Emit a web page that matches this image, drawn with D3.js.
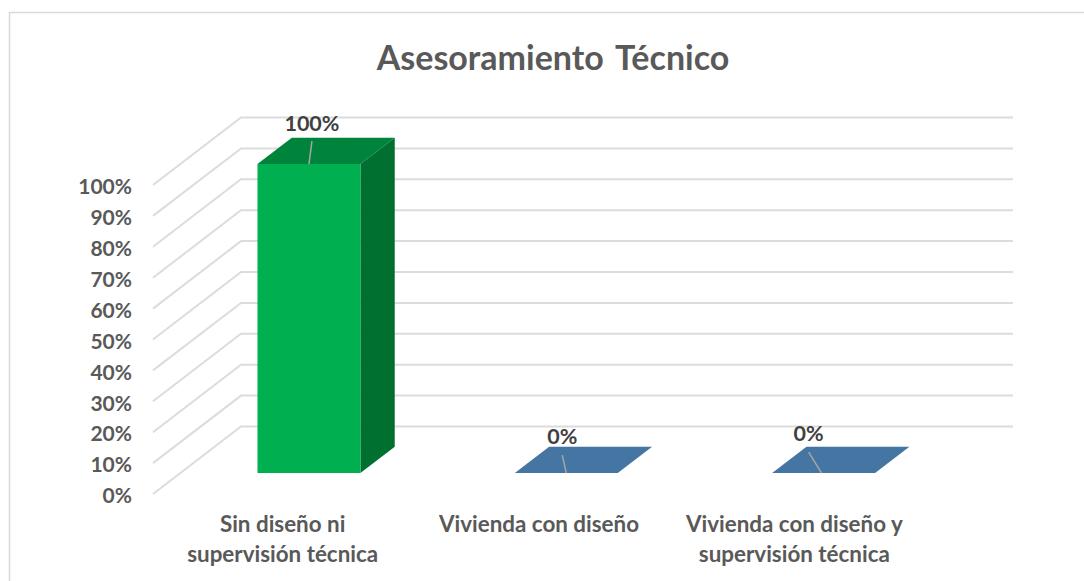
<!DOCTYPE html>
<html>
<head>
<meta charset="utf-8">
<script src="https://cdn.jsdelivr.net/npm/d3@7"></script>
<style>
  html, body { margin: 0; padding: 0; background: #fff; }
  svg { display: block; }
  text { font-family: Lato, "Open Sans", sans-serif; font-weight: 700; }
</style>
</head>
<body>
<svg id="chart" width="1084" height="581"></svg>
<script>
// chart data
var title = "Asesoramiento Técnico";
var categories = ["Sin diseño ni supervisión técnica", "Vivienda con diseño", "Vivienda con diseño y supervisión técnica"];
var categoryLines = [["Sin diseño ni", "supervisión técnica"], ["Vivienda con diseño"], ["Vivienda con diseño y", "supervisión técnica"]];
var values = [100, 0, 0];
var valueLabels = ["100%", "0%", "0%"];
var yTicks = [0, 10, 20, 30, 40, 50, 60, 70, 80, 90, 100];

var svg = d3.select("#chart");

// chart frame
svg.append("path")
  .attr("d", "M9.5,581V12.5H1084")
  .attr("fill", "none")
  .attr("stroke", "#d9d9d9")
  .attr("stroke-width", 1.5);

svg.append("text")
  .attr("x", 553)
  .attr("y", 70)
  .attr("text-anchor", "middle")
  .attr("fill", "#595959")
  .style("font-size", "34px")
  .style("word-spacing", "4px")
  .text(title);

// front plane scales
var x = d3.scaleBand().domain(categories).range([153, 925]).paddingInner(0.6).paddingOuter(0.3);
var y = d3.scaleLinear().domain([0, 100]).range([494, 185]);

// depth of the 3d box, shift of the back wall from the front plane
var depthX = 88, depthY = -67.5;
var barFront = 0.31, barBack = 0.70;

function pt(px, py, d) {
  return [px + d * depthX, py + d * depthY];
}
var line = d3.line();

// gridlines: floor part + back wall part
var grid = svg.append("g");
yTicks.forEach(function(t) {
  grid.append("path")
    .attr("d", line([pt(x.range()[0], y(t), 0), pt(x.range()[0], y(t), 1), pt(x.range()[1], y(t), 1)]))
    .attr("fill", "none")
    .attr("stroke", "#dcdcdc")
    .attr("stroke-width", 2);
});

// y axis labels
var yAxis = d3.axisLeft(y).tickValues(yTicks).tickSize(0).tickFormat(function(d) { return d + "%"; });
var yG = svg.append("g").attr("transform", "translate(132,2)").call(yAxis);
yG.select(".domain").remove();
yG.selectAll("text")
  .attr("x", 0)
  .attr("fill", "#595959")
  .style("font-size", "21px")
  .style("font-family", "Lato, sans-serif");

// bars
var bars = svg.append("g").selectAll("g").data(categories).enter().append("g");

bars.each(function(c, i) {
  var g = d3.select(this);
  var l = x(c), r = l + x.bandwidth();
  var y0 = y(0), y1 = y(values[i]);

  if (values[i] > 0) {
    // top
    g.append("path")
      .attr("d", line([pt(l, y1, barFront), pt(l, y1, barBack), pt(r, y1, barBack), pt(r, y1, barFront)]) + "Z")
      .attr("fill", "#00843b");
    // side
    g.append("path")
      .attr("d", line([pt(r, y1, barFront), pt(r, y1, barBack), pt(r, y0, barBack), pt(r, y0, barFront)]) + "Z")
      .attr("fill", "#007030");
    // front
    g.append("path")
      .attr("d", line([pt(l, y1, barFront), pt(r, y1, barFront), pt(r, y0, barFront), pt(l, y0, barFront)]) + "Z")
      .attr("fill", "#00b050");
  } else {
    g.append("path")
      .attr("d", line([pt(l, y0, barFront), pt(l, y0, barBack), pt(r, y0, barBack), pt(r, y0, barFront)]) + "Z")
      .attr("fill", "#4475a3");
  }
});

// data labels were dragged by hand in the original, so offsets differ per bar
var labelDx = [3, -4, -15];
var labelDy = [-33, -29, -32];
var leaderFoot = [0, 0, -2];
var leaderLen = [23, 18, 21];

bars.each(function(c, i) {
  var g = d3.select(this);
  var cx = x(c) + x.bandwidth() / 2;
  var foot = pt(cx, y(values[i]), barFront);
  var lx = foot[0] + labelDx[i];
  g.append("path")
    .attr("d", line([[foot[0] + leaderFoot[i], foot[1]], [lx, foot[1] - leaderLen[i]]]))
    .attr("stroke", "#a6a6a6")
    .attr("stroke-width", 1.5)
    .attr("fill", "none");
  g.append("text")
    .attr("x", lx)
    .attr("y", foot[1] + labelDy[i])
    .attr("text-anchor", "middle")
    .attr("fill", "#404040")
    .style("font-size", "21.5px")
    .text(valueLabels[i]);
});

// category labels
var categoryDx = [1, 0, -2];
categoryLines.forEach(function(lines, i) {
  var cx = x(categories[i]) + x.bandwidth() / 2 + categoryDx[i];
  lines.forEach(function(s, j) {
    svg.append("text")
      .attr("x", cx)
      .attr("y", 532 + j * 30)
      .attr("text-anchor", "middle")
      .attr("fill", "#595959")
      .style("font-size", "22.4px")
      .text(s);
  });
});
</script>
</body>
</html>
